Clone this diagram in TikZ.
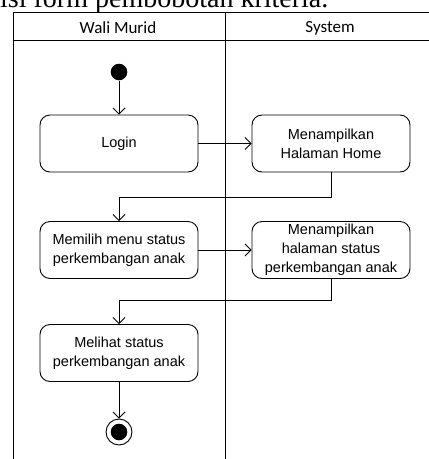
\documentclass[tikz,border=0pt]{standalone}
\usepackage{fontspec}
\setmainfont{Liberation Sans}
\newfontfamily\lanefont{Carlito}
\newfontfamily\bodyfont{Liberation Serif}
\usetikzlibrary{shapes,arrows.meta,positioning,calc}

\begin{document}
\begin{tikzpicture}[x=1pt,y=-1pt,
    actbox/.style={draw, rounded corners=10pt, minimum width=158pt, minimum height=57pt, align=center, inner sep=1pt, line width=0.9pt, font=\fontsize{14.5}{19}\selectfont},
    lanetext/.style={font=\lanefont\fontsize{17}{20}\selectfont},
    lane/.style={line width=1pt},
    flow/.style={line width=0.9pt, -{Straight Barb[length=6pt,width=12pt]}}]
        \useasboundingbox (0,0) rectangle (429,459);
        \clip (0,0) rectangle (429,459);
        \node [anchor=base west, inner sep=0pt, font=\bodyfont\fontsize{28}{30}\selectfont] (caption) at (0,7) {isi form pembobotan kriteria.};
        \draw [lane] (13.5,460) -- (13.5,12) -- (430,12);
        \draw [lane] (13.5,40.5) -- (430,40.5);
        \draw [lane] (225,12) -- (225,460);
        \node [lanetext] (wali) at (118,28) {Wali Murid};
        \node [lanetext] (system) at (330,28) {System};
        \node [circle, fill, inner sep=0pt, minimum size=16.6pt] (start) at (119,72) {};
        \node [actbox] (login) at (119,143.5) {Login};
        \node [actbox] (home) at (331,143.5) {Menampilkan\\Halaman Home};
        \node [actbox] (pilihmenu) at (119,250) {Memilih menu status\\perkembangan anak};
        \node [actbox] (status) at (331,250) {Menampilkan\\halaman status\\perkembangan anak};
        \node [actbox] (lihat) at (119,353) {Melihat status\\perkembangan anak};
        \node [circle, draw, line width=0.9pt, inner sep=0pt, minimum size=26pt,
               path picture={\fill (path picture bounding box.center) circle [radius=8.3pt];}] (stop) at (119,432) {};
        \draw [flow] (start) -- (login);
        \draw [flow] (login) -- (home);
        \draw [flow] (home.south) -- ++(0,25) -| (pilihmenu.north);
        \draw [flow] (pilihmenu) -- (status);
        \draw [flow] (status.south) -- ++(0,21) -| (lihat.north);
        \draw [flow] (lihat) -- (stop);
      \end{tikzpicture}
\end{document}
